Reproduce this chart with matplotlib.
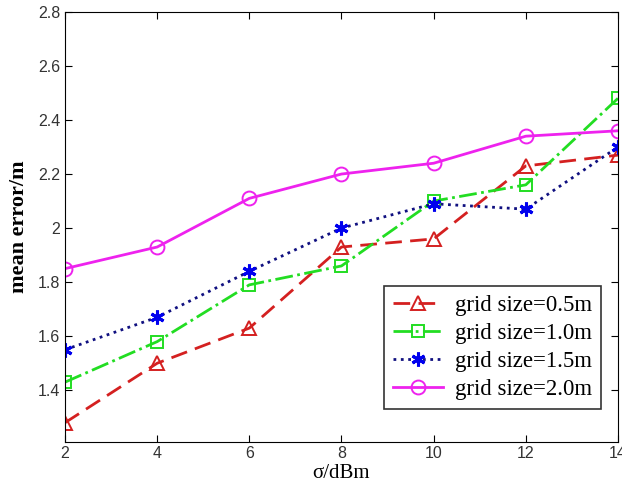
import matplotlib.pyplot as plt
import numpy as np

sigma = [2, 4, 6, 8, 10, 12, 14]
err_05 = [1.28, 1.50, 1.63, 1.93, 1.96, 2.23, 2.27]
err_10 = [1.43, 1.58, 1.79, 1.86, 2.10, 2.16, 2.48]
err_15 = [1.55, 1.67, 1.84, 2.00, 2.09, 2.07, 2.30]
err_20 = [1.85, 1.93, 2.11, 2.20, 2.24, 2.34, 2.36]
labels = ['grid size=0.5m', 'grid size=1.0m', 'grid size=1.5m', 'grid size=2.0m']

fig = plt.figure(figsize=(6.22, 4.94), dpi=100)
ax = fig.add_axes([0.1045, 0.106, 0.889, 0.870])

ax.plot(sigma, err_05, '--', color='#d42020', lw=2, marker='^', ms=10,
        mfc='none', mew=1.4, label=labels[0], dashes=(6, 3))
ax.plot(sigma, err_10, '-.', color='#22dd22', lw=2, marker='s', ms=9,
        mfc='none', mew=1.4, label=labels[1])
ax.plot(sigma, err_15, ':', color='#101080', lw=2, marker=(6, 2, 0), ms=10,
        mec='#0000ee', mew=2.2, label=labels[2])
ax.plot(sigma, err_20, '-', color='#ee22ee', lw=2, marker='o', ms=10,
        mfc='none', mew=1.4, label=labels[3])

ax.set_xlim(2, 14)
ax.set_ylim(1.21, 2.8)
ax.set_xticks(sigma)
ax.set_yticks([1.4, 1.6, 1.8, 2.0, 2.2, 2.4, 2.6, 2.8])
ax.set_yticklabels(['1.4', '1.6', '1.8', '2', '2.2', '2.4', '2.6', '2.8'])
ax.tick_params(direction='in', top=True, right=True, length=5, labelsize=11.5)
for lab in ax.get_xticklabels() + ax.get_yticklabels():
    lab.set_family('Liberation Sans')
    lab.set_color('#333333')

ax.set_xlabel('σ/dBm', family='Liberation Serif', fontsize=15, labelpad=2)
ax.set_ylabel('mean error/m', family='Liberation Serif', fontsize=16,
              fontweight='bold', labelpad=6)

leg = ax.legend(loc='lower right', bbox_to_anchor=(0.99, 0.05),
                prop={'family': 'Liberation Serif', 'size': 16.5},
                fancybox=False, edgecolor='#333333', framealpha=1,
                handlelength=2.2, labelspacing=0.3, borderpad=0.4,
                handletextpad=0.5)
leg.get_frame().set_linewidth(1.2)

fig.savefig('out.png', dpi=100)
